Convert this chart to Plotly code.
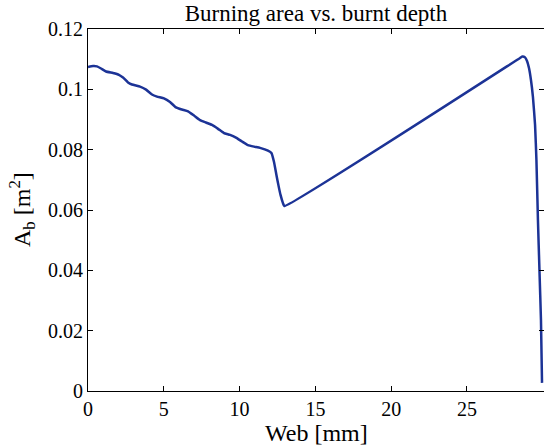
import plotly.graph_objects as go

web_mm = [0.00, 0.33, 0.59, 0.86, 1.19, 1.65, 2.04, 2.31, 2.64, 2.90, 3.43, 3.83, 4.22, 4.55,
          5.01, 5.41, 5.80, 6.20, 6.60, 6.99, 7.39, 7.78, 8.18, 8.58, 8.97, 9.37, 9.76, 10.16,
          10.55, 10.95, 11.35, 11.87, 12.10, 12.27, 12.43, 12.57, 12.70, 12.86, 12.95,
          28.50, 28.66, 28.83, 28.96, 29.09, 29.22, 29.35, 29.49, 29.58, 29.68, 29.78, 29.88, 29.95]
area_m2 = [0.1074, 0.1077, 0.1076, 0.1069, 0.1059, 0.1054, 0.1048, 0.1039, 0.1023, 0.1016, 0.1009,
           0.0999, 0.0983, 0.0976, 0.0970, 0.0958, 0.0940, 0.0933, 0.0927, 0.0913, 0.0898, 0.0890,
           0.0882, 0.0869, 0.0855, 0.0849, 0.0840, 0.0827, 0.0815, 0.0810, 0.0806, 0.0797, 0.0789,
           0.0759, 0.0716, 0.0680, 0.0650, 0.0623, 0.0613,
           0.1104, 0.1109, 0.1106, 0.1094, 0.1071, 0.1031, 0.0975, 0.0882, 0.0766, 0.0567, 0.0401,
           0.0235, 0.0027]

x_ticks = [0, 5, 10, 15, 20, 25]
y_ticks = [0, 0.02, 0.04, 0.06, 0.08, 0.1, 0.12]
y_tick_text = ["0", "0.02", "0.04", "0.06", "0.08", "0.1", "0.12"]

FONT = "Liberation Serif, Times New Roman, serif"

fig = go.Figure()
fig.add_trace(go.Scatter(x=web_mm, y=area_m2, mode="lines",
                         line=dict(color="#1c3396", width=2.5, shape="spline", smoothing=0.4),
                         showlegend=False))

axis_common = dict(showgrid=False, zeroline=False, showline=True, linecolor="black", linewidth=1,
                   mirror="ticks", ticks="inside", ticklen=5, tickcolor="black",
                   tickfont=dict(family=FONT, size=20, color="black"))

fig.update_xaxes(range=[0, 30.08], tickvals=x_ticks, ticktext=[str(v) for v in x_ticks],
                 **axis_common)
fig.update_yaxes(range=[0, 0.12], tickvals=y_ticks, ticktext=y_tick_text, **axis_common)

fig.update_layout(
    width=544, height=445,
    margin=dict(l=88, r=0, t=29, b=54),
    paper_bgcolor="white", plot_bgcolor="white",
    title=dict(text="Burning area vs. burnt depth", x=0.5, xref="paper",
               y=1 - 13 / 445, yref="container", yanchor="middle",
               font=dict(family=FONT, size=23, color="black")),
    annotations=[
        dict(text="Web [mm]", xref="paper", yref="paper", x=0.5, y=(391 - 433) / 362,
             xanchor="center", yanchor="middle", showarrow=False,
             font=dict(family=FONT, size=24, color="black")),
        dict(text="A<sub>b</sub> [m<sup>2</sup>]", xref="paper", yref="paper",
             x=(22 - 88) / 456, y=0.5, xanchor="center", yanchor="middle", textangle=-90,
             showarrow=False, font=dict(family=FONT, size=24, color="black")),
    ],
)

fig.write_html("out.html")
